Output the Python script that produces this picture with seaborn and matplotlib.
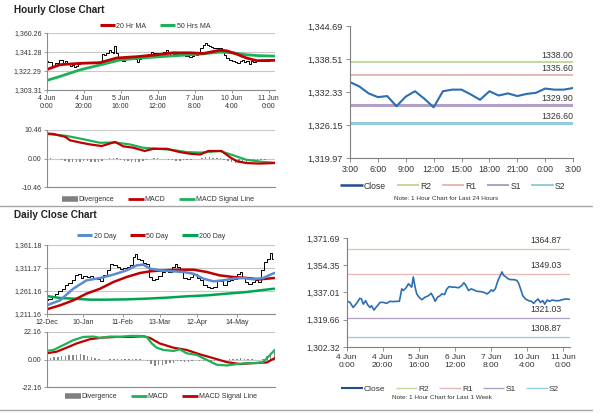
import numpy as np
import pandas as pd
import matplotlib
matplotlib.use("Agg")
import matplotlib.pyplot as plt
from matplotlib.lines import Line2D
import seaborn as sns

# ---------------- data ----------------
# 1 hour chart, last 1 week (x = trading hours since 4 Jun 0:00)
week_hours = [0, 1.9, 3.7, 5.6, 7.4, 8.3, 9.3, 10.6, 11.7, 13.0, 13.9, 15.2, 16.3, 17.6, 18.5,
              20.4, 22.2, 24.1, 25.9, 27.8, 29.3, 30.6, 31.5, 33.0, 34.3, 35.2, 36.1, 37.0, 38.0,
              38.9, 40.2, 41.7, 43.5, 45.4, 46.9, 48.1, 49.1, 50.4, 51.9, 52.8, 54.3, 55.6, 56.9,
              58.3, 60.2, 62.0, 63.9, 65.0, 66.1, 67.6, 69.1, 70.4, 72.2, 74.1, 75.9, 77.8, 79.1,
              80.2, 81.1, 82.4, 83.9, 85.2, 86.1, 87.0, 88.3, 89.4, 90.7, 92.6, 94.4, 95.4, 96.7,
              97.6, 99.1, 100.9, 102.4, 103.7, 105.0, 106.1, 107.4, 108.7, 109.8, 111.1, 112.4,
              113.9, 115.7, 117.6, 119.4, 121.3, 123.4]
week_close = [1331.8, 1330.7, 1327.5, 1330.1, 1333.3, 1332.9, 1329.6, 1331.8, 1329.2, 1327.5, 1328.6,
              1325.8, 1327.5, 1329.2, 1330.7, 1330.7, 1330.1, 1331.4, 1331.2, 1331.4, 1331.4, 1339.3,
              1338.3, 1340.0, 1342.6, 1341.5, 1340.4, 1346.9, 1340.4, 1336.1, 1334.0, 1332.4, 1334.0,
              1335.0, 1336.5, 1334.0, 1331.4, 1334.0, 1335.0, 1336.1, 1335.7, 1339.3, 1340.8, 1340.4,
              1340.4, 1340.0, 1341.5, 1343.2, 1341.5, 1338.3, 1339.3, 1338.7, 1337.8, 1337.6, 1337.2,
              1336.1, 1337.2, 1338.7, 1337.8, 1339.3, 1344.7, 1347.9, 1350.1, 1347.9, 1346.9, 1345.8,
              1345.2, 1345.2, 1344.7, 1342.6, 1338.3, 1335.0, 1332.9, 1331.8, 1331.4, 1330.1, 1331.8,
              1332.9, 1330.7, 1331.8, 1329.6, 1332.2, 1331.4, 1332.2, 1331.8, 1331.8, 1332.4, 1332.9,
              1332.7]
ma20_hours = [0, 7.2, 18, 28.8, 37.8, 48.6, 59.5, 68.5, 77.5, 84.7, 93.7, 97.3, 102.7, 108.1, 113.5, 123.4]
ma20_vals = [1323.6, 1328.5, 1329.8, 1330.5, 1335.1, 1336.4, 1338.3, 1340.3, 1340.3, 1339.6, 1342.9,
             1342.3, 1339.0, 1335.1, 1332.5, 1332.8]
ma50_hours = [0, 7.2, 18, 28.8, 39.6, 50.5, 61.3, 72.1, 82.9, 93.7, 100.9, 108.1, 115.3, 123.4]
ma50_vals = [1312.8, 1316.8, 1323.3, 1328.2, 1333.1, 1335.1, 1336.4, 1337.7, 1339.0, 1341.0, 1340.3,
             1338.3, 1337.4, 1337.0]
hmacd_hours = [0, 3.6, 9.9, 12.6, 18, 23.4, 29.7, 37, 41.4, 46.8, 53, 57.7, 64.9, 72, 77.5, 83, 87.4,
               94.6, 99, 102.7, 108, 115, 123.4]
hmacd_vals = [9.2, 9.0, 8.0, 6.7, 5.9, 5.2, 4.6, 6.1, 4.5, 4.0, 2.8, 3.6, 3.6, 2.4, 1.8, 1.5, 2.8, 2.8,
              0.6, -0.9, -1.6, -1.8, -1.6]
hsig_hours = [0, 10.8, 19.8, 28.8, 37, 45, 52, 59.5, 66.7, 75.7, 83, 93.7, 101, 108, 117, 123.4]
hsig_vals = [9.0, 8.3, 7.1, 5.8, 5.9, 5.2, 4.0, 3.6, 3.3, 2.4, 2.2, 2.8, 1.2, -0.4, -1.2, -1.5]
hdiv_hours = list(range(0, 124, 2))
hdiv_vals = [0.6, 0.4, 0.0, -0.3, -0.6, -0.9, -1.1, -1.2, -1.2, -1.1, -1.0, -1.0, -1.1, -1.2, -1.1,
             -0.7, -0.2, 0.2, 0.3, 0.1, -0.4, -0.8, -1.0, -1.1, -1.2, -1.1, -0.9, -0.5, -0.1, 0.1,
             0.1, 0.0, -0.2, -0.4, -0.6, -0.7, -0.7, -0.6, -0.6, -0.5, -0.3, 0.0, 0.3, 0.5, 0.5,
             0.4, 0.3, 0.1, -0.4, -0.9, -1.4, -1.6, -1.6, -1.4, -1.2, -1.0, -0.8, -0.7, -0.6, -0.5,
             -0.3, -0.1]
week_ticks = [0, 20, 40, 60, 80, 100, 120]
week_labels = ["4 Jun\n0:00", "4 Jun\n20:00", "5 Jun\n16:00", "6 Jun\n12:00", "7 Jun\n8:00",
               "10 Jun\n4:00", "11 Jun\n0:00"]

# 1 hour chart, last 24 hours
day_hours = list(range(25))
day_close = [1334.2, 1333.4, 1332.1, 1331.4, 1331.6, 1329.7, 1331.5, 1332.5, 1331.1, 1329.5, 1332.5,
             1332.8, 1332.8, 1331.9, 1330.9, 1332.5, 1331.7, 1332.1, 1331.6, 1332.0, 1332.2, 1333.0,
             1332.8, 1332.8, 1333.1]
day_labels = ["3:00", "6:00", "9:00", "12:00", "15:00", "18:00", "21:00", "0:00", "3:00"]
day_levels = {"R2": 1338.00, "R1": 1335.60, "S1": 1329.90, "S2": 1326.60}
week_levels = {"R2": 1364.87, "R1": 1349.03, "S1": 1321.03, "S2": 1308.87}

# Daily chart (x = days since 12-Dec)
daily_days = [0, 2.7, 5.4, 8, 10.7, 13.4, 16, 18.8, 21.4, 24.1, 26.3, 28.2, 30.8, 33.5, 36.2, 38.9,
              41.6, 44.2, 46.9, 49.6, 52.3, 55, 57.6, 60.3, 63, 65.7, 68.4, 70.2, 71.8, 73.7, 76.4,
              79.1, 81, 83.1, 85.8, 88.5, 91.2, 93.8, 96.5, 99.2, 101.9, 104, 105.9, 108.6, 111.3,
              113.9, 116.6, 119.3, 122, 124.7, 127.3, 130, 132.7, 135.4, 138, 140.8, 143.4, 146.1,
              148.8, 151.5, 154.2, 156, 158.2, 160.9, 163.5, 166.2, 168.9, 171.6, 173.7, 175.6,
              178.3, 180.2, 182.3]
daily_close = [1240.9, 1244.5, 1248.1, 1255.4, 1260.4, 1266.2, 1273.5, 1279.3, 1284.4, 1295.2, 1298.8,
               1289.4, 1293.8, 1291.6, 1293.8, 1289.4, 1286.5, 1282.2, 1295.2, 1306.1, 1320.6, 1317.0,
               1313.3, 1309.7, 1311.2, 1313.3, 1317.0, 1335.1, 1342.3, 1331.5, 1327.8, 1322.8, 1320.6,
               1291.6, 1284.4, 1288.0, 1293.8, 1302.5, 1306.1, 1302.5, 1313.3, 1320.6, 1313.3, 1302.5,
               1289.4, 1286.5, 1291.6, 1298.8, 1289.4, 1284.4, 1273.5, 1269.9, 1267.7, 1269.9, 1284.4,
               1282.2, 1273.5, 1282.2, 1284.4, 1288.0, 1298.8, 1302.5, 1291.6, 1280.7, 1277.1, 1280.7,
               1284.4, 1280.7, 1306.1, 1324.2, 1331.5, 1344.5, 1330.0]
d20_days = [0, 10.7, 21.4, 32, 43, 53.6, 64.3, 72.4, 77.7, 83.1, 91.2, 101.9, 110, 118, 126, 134, 142,
            150, 158, 166, 174, 183]
d20_vals = [1230.0, 1240.9, 1266.2, 1284.4, 1289.4, 1296.7, 1306.1, 1317.0, 1318.4, 1309.7, 1306.1,
            1303.9, 1302.5, 1298.8, 1288.0, 1282.2, 1284.4, 1288.0, 1289.4, 1286.5, 1289.4, 1300.3]
d50_days = [0, 10.7, 21.4, 32, 43, 53.6, 64.3, 75, 83, 93.8, 107, 118, 128.7, 139, 150, 161, 171.6, 183]
d50_vals = [1221.3, 1230.0, 1240.9, 1255.4, 1266.2, 1280.7, 1291.6, 1300.3, 1303.9, 1306.1, 1307.5,
            1307.5, 1302.5, 1295.2, 1291.6, 1289.4, 1286.5, 1289.4]
d200_days = [0, 10.7, 21.4, 35, 48, 64, 80, 96.5, 112.6, 128.7, 144.8, 161, 171.6, 183]
d200_vals = [1250.3, 1245.9, 1244.5, 1242.3, 1242.3, 1243.0, 1244.5, 1246.7, 1249.6, 1251.7, 1255.4,
             1259.0, 1262.6, 1266.2]
dmacd_days = [0, 5.4, 13.4, 21.4, 29.5, 37.5, 43, 51, 59, 67, 75, 80.4, 84.5, 88.5, 93.8, 102, 107,
              112.6, 120.6, 128.7, 136.7, 144.8, 152.8, 161, 169, 174, 179.6, 183.4]
dmacd_vals = [6.9, 7.7, 11.6, 15.6, 18.2, 18.5, 17.4, 18.5, 18.2, 19.0, 19.0, 18.2, 12.9, 9.5, 7.7,
              6.9, 8.2, 5.0, 3.7, -0.3, -4.2, -4.8, -3.7, -2.9, -2.9, -2.1, 3.7, 7.7]
dsig_days = [0, 8, 16, 24, 35, 45.6, 56, 67, 77.7, 83, 91, 102, 112.6, 123, 134, 144.8, 155.5, 166,
             177, 183.4]
dsig_vals = [5.0, 6.3, 9.5, 12.9, 16.4, 17.7, 18.2, 18.2, 18.7, 17.4, 12.9, 9.5, 7.7, 4.2, 1.1, -2.1,
             -3.7, -2.9, -2.4, 1.1]
ddiv_days = list(range(0, 184, 3))
ddiv_vals = [1.8, 1.6, 2.0, 2.3, 2.5, 2.8, 3.3, 3.7, 4.0, 4.2, 3.8, 3.0, 2.2, 1.0, 0.2, -0.3, -0.1,
             0.4, 0.5, 0.3, 0.2, 0.4, 0.6, 0.8, 0.7, 0.5, 0.0, -1.5, -3.5, -5.0, -4.8, -4.5, -3.8,
             -3.0, -2.6, -1.5, -1.0, -1.8, -2.0, -1.5, -0.8, -1.0, -1.5, -1.6, -1.8, -1.5, -0.8,
             -0.5, -0.3, 0.2, 0.5, 0.8, 1.0, 0.8, 0.3, 0.1, -0.1, 0.0, 0.5, 2.5, 4.5, 6.0]
daily_ticks = [0, 29, 61, 91, 121, 153]
daily_labels = ["12-Dec", "10-Jan", "11-Feb", "13-Mar", "12-Apr", "14-May"]

hp_yticks = [1303.31, 1322.29, 1341.28, 1360.26]
hm_yticks = [-10.46, 0.00, 10.46]
dr_yticks = [1319.97, 1326.15, 1332.33, 1338.51, 1344.69]
dp_yticks = [1211.16, 1261.16, 1311.17, 1361.18]
dm_yticks = [-22.16, 0.00, 22.16]
wr_yticks = [1302.32, 1319.66, 1337.01, 1354.35, 1371.69]

# ---------------- style ----------------
sns.set_theme(style="white")
plt.rcParams['font.family'] = ['Liberation Sans', 'DejaVu Sans']
RED = "#c00000"
GREEN = "#1fb15a"
BLUE20 = "#5b8bd0"
CLOSE = "#2c6db3"
GRID = "#c8c8c8"
SPINE = "#8c8c8c"
LEVEL_COL = {"R2": "#c4d79b", "R1": "#e6b9b8", "S1": "#b1a0c7", "S2": "#92cddc"}
TXT = "#333333"

fig = plt.figure(figsize=(6, 4.13), dpi=100)
W, H = 600, 413


def add_ax(x0, y0, x1, y1):
    return fig.add_axes([x0 / W, 1 - y1 / H, (x1 - x0) / W, (y1 - y0) / H])


def fmt(v):
    return f"{v:,.2f}"


def h(color, lw):
    return Line2D([], [], color=color, lw=lw, solid_capstyle="butt")


def style_left(ax, yticks, fs=5):
    ax.set_ylim(yticks[0], yticks[-1])
    ax.set_yticks(yticks)
    ax.set_yticklabels([fmt(v) for v in yticks], fontsize=fs, color=TXT)
    ax.yaxis.grid(True, color=GRID, lw=0.8)
    ax.xaxis.grid(False)
    for s in ["top", "right"]:
        ax.spines[s].set_visible(False)
    for s in ["left", "bottom"]:
        ax.spines[s].set_color(SPINE)
        ax.spines[s].set_linewidth(0.8)
    ax.tick_params(axis="both", length=2, width=0.6, color=SPINE, pad=1.5)
    ax.tick_params(axis="y", left=True)
    ax.tick_params(axis="x", bottom=True)
    ax.set_xlabel("")
    ax.set_ylabel("")


def style_right(ax, yticks, fs=6.2):
    ax.set_ylim(yticks[0], yticks[-1])
    ax.set_yticks(yticks)
    ax.set_yticklabels([fmt(v) for v in yticks], fontsize=fs, color=TXT)
    ax.grid(False)
    for s in ["top", "right"]:
        ax.spines[s].set_visible(False)
    for s in ["left", "bottom"]:
        ax.spines[s].set_color("#7f7f7f")
        ax.spines[s].set_linewidth(0.8)
    ax.tick_params(axis="both", length=3, width=0.6, color="#7f7f7f", pad=2, left=True, bottom=True)
    ax.set_xlabel("")
    ax.set_ylabel("")


def legend_at(handles, labels, cx, cy, fs=5, ncol=None, hl=2.2, cs=2.0):
    fig.legend(handles, labels, loc="center", bbox_to_anchor=(cx / W, 1 - cy / H),
               ncol=ncol or len(handles), frameon=False, fontsize=fs, handlelength=hl,
               handletextpad=0.15, columnspacing=cs, borderaxespad=0, borderpad=0,
               labelcolor=TXT)


# ---------------- hourly close chart ----------------
fig.text(14 / W, 1 - 10 / H, "Hourly Close Chart", fontsize=7.2, fontweight="bold",
         va="center", ha="left", color="#222222")

ax1 = add_ax(46.7, 32.7, 275, 90)
sns.lineplot(x=week_hours, y=week_close, ax=ax1, color="black", lw=0.7, drawstyle="steps-mid")
sns.lineplot(x=ma50_hours, y=ma50_vals, ax=ax1, color=GREEN, lw=2.0)
sns.lineplot(x=ma20_hours, y=ma20_vals, ax=ax1, color=RED, lw=2.0)
ax1.set_xlim(0, 123.5)
ax1.set_xticks(week_ticks)
ax1.set_xticklabels(week_labels, fontsize=5, color=TXT, linespacing=1.3)
style_left(ax1, hp_yticks)
legend_at([h(RED, 2.2), h(GREEN, 2.2)], ["20 Hr MA", "50 Hrs MA"], 155, 26)

ax2 = add_ax(46.7, 130, 275, 187.3)
ax2.bar(hdiv_hours, hdiv_vals, width=0.8, color="#8a8a8a", linewidth=0)
sns.lineplot(x=hsig_hours, y=hsig_vals, ax=ax2, color=GREEN, lw=1.6)
sns.lineplot(x=hmacd_hours, y=hmacd_vals, ax=ax2, color=RED, lw=1.6)
ax2.set_xlim(0, 123.5)
ax2.set_xticks(week_ticks)
ax2.set_xticklabels([])
style_left(ax2, hm_yticks)
ax2.tick_params(axis="x", length=0)
legend_at([h("#808080", 4), h(RED, 2), h(GREEN, 2)],
          ["Divergence", "MACD", "MACD Signal Line"], 158, 200)

# ---------------- last 24 hours ----------------
ax3 = add_ax(350, 26, 573, 158.3)
for name, lw in [("R2", 1.4), ("R1", 1.4), ("S1", 2.2), ("S2", 2.2)]:
    lv = day_levels[name]
    ax3.axhline(lv, color=LEVEL_COL[name], lw=lw)
    ax3.annotate(f"{lv:.2f}", xy=(24, lv), xytext=(0, 1.5), textcoords="offset points",
                 ha="right", va="bottom", fontsize=6.3, color=TXT)
sns.lineplot(x=day_hours, y=day_close, ax=ax3, color=CLOSE, lw=1.5)
ax3.set_xlim(0, 24)
ax3.set_xticks(list(range(0, 25, 3)))
ax3.set_xticklabels(day_labels, fontsize=6.3, color=TXT)
style_right(ax3, dr_yticks, fs=6.6)
lev_handles = [h("#1f4e8c", 1.8)] + [h(LEVEL_COL[k], 1.4) for k in ["R2", "R1", "S1", "S2"]]
legend_at(lev_handles, ["Close", "R2", "R1", "S1", "S2"], 453, 186, fs=6.2, hl=2.6, cs=1.2)
fig.text(446 / W, 1 - 199 / H, "Note: 1 Hour Chart for Last 24 Hours", fontsize=4.6,
         ha="center", va="center", color=TXT)

# separator lines
fig.add_artist(Line2D([0, 592 / W], [1 - 206 / H, 1 - 206 / H], color="#a6a6a6", lw=1))
fig.add_artist(Line2D([0, 592 / W], [1 - 410 / H, 1 - 410 / H], color="#a6a6a6", lw=1))

# ---------------- daily close chart ----------------
fig.text(14 / W, 1 - 215 / H, "Daily Close Chart", fontsize=7.2, fontweight="bold",
         va="center", ha="left", color="#222222")

ax4 = add_ax(46.7, 245, 275, 314)
sns.lineplot(x=daily_days, y=daily_close, ax=ax4, color="black", lw=0.7, drawstyle="steps-mid")
sns.lineplot(x=d200_days, y=d200_vals, ax=ax4, color="#00a550", lw=1.8)
sns.lineplot(x=d50_days, y=d50_vals, ax=ax4, color=RED, lw=1.8)
sns.lineplot(x=d20_days, y=d20_vals, ax=ax4, color=BLUE20, lw=1.8)
ax4.set_xlim(0, 183.6)
ax4.set_xticks(daily_ticks)
ax4.set_xticklabels(daily_labels, fontsize=5, color=TXT)
style_left(ax4, dp_yticks)
legend_at([h(BLUE20, 2.2), h(RED, 2.2), h("#00a550", 2.2)],
          ["20 Day", "50 Day", "200 Day"], 151, 236)

ax5 = add_ax(46.7, 332, 275, 387)
ax5.bar(ddiv_days, ddiv_vals, width=1.2, color="#8a8a8a", linewidth=0)
sns.lineplot(x=dsig_days, y=dsig_vals, ax=ax5, color=RED, lw=1.6)
sns.lineplot(x=dmacd_days, y=dmacd_vals, ax=ax5, color="#1fb15a", lw=1.6)
ax5.set_xlim(0, 183.6)
ax5.set_xticks(daily_ticks)
ax5.set_xticklabels([])
style_left(ax5, dm_yticks)
ax5.tick_params(axis="x", length=0)
legend_at([h("#808080", 4), h("#1fb15a", 2), h(RED, 2)],
          ["Divergence", "MACD", "MACD Signal Line"], 161, 397)

# ---------------- last 1 week ----------------
ax6 = add_ax(346.5, 238, 569.5, 347)
for name in ["R2", "R1", "S1", "S2"]:
    lv = week_levels[name]
    ax6.axhline(lv, color=LEVEL_COL[name], lw=0.9)
    ax6.annotate(f"{lv:.2f}", xy=(119, lv), xytext=(0, 2.5), textcoords="offset points",
                 ha="right", va="bottom", fontsize=6.2, color=TXT)
sns.lineplot(x=week_hours, y=week_close, ax=ax6, color=CLOSE, lw=1.2)
ax6.set_xlim(0, 123.5)
ax6.set_xticks(week_ticks)
ax6.set_xticklabels(week_labels, fontsize=6, color=TXT, linespacing=1.2)
style_right(ax6, wr_yticks, fs=6.2)
lev_handles2 = [h("#1f4e8c", 1.5)] + [h(LEVEL_COL[k], 1.0) for k in ["R2", "R1", "S1", "S2"]]
legend_at(lev_handles2, ["Close", "R2", "R1", "S1", "S2"], 450, 389, fs=6, hl=2.6, cs=1.2)
fig.text(442 / W, 1 - 397.5 / H, "Note: 1 Hour Chart for Last 1 Week", fontsize=4.6,
         ha="center", va="center", color=TXT)

fig.savefig("out.png", dpi=100)
